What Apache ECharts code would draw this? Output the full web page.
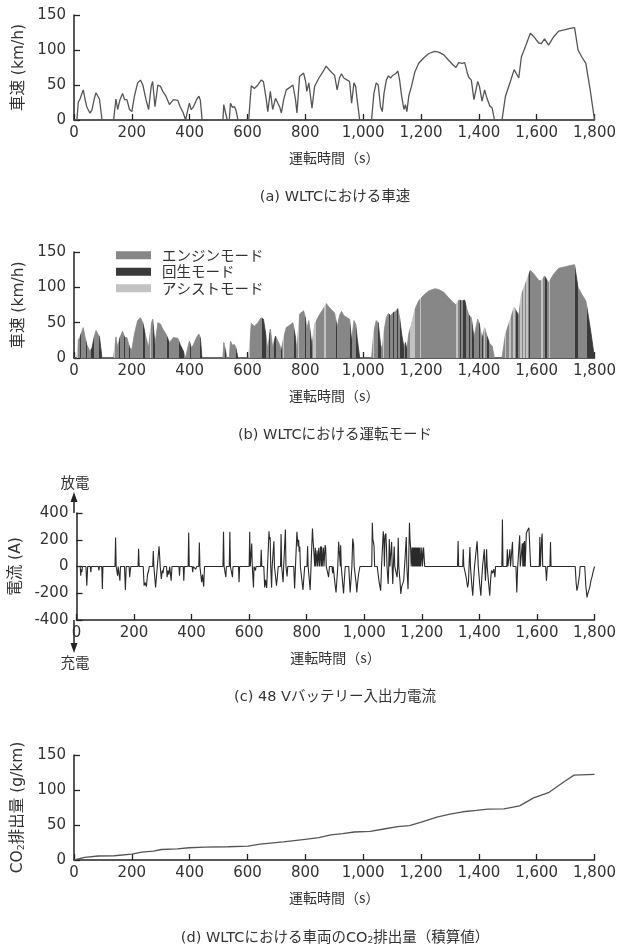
<!DOCTYPE html>
<html>
<head>
<meta charset="utf-8">
<script src="https://cdn.jsdelivr.net/npm/echarts@6/dist/echarts.min.js"></script>
<style>
html, body { margin: 0; padding: 0; background: #fff; }
#chart { width: 619px; height: 945px; }
</style>
</head>
<body>
<div id="chart"></div>
<script>
// 車速 [s, km/h]
var speedPoints = [
	[0,0],[10,0],[15,26],[20,29],[26,36],[32,43],[38,30],[44,19],[50,14],[55,10],[62,14],[70,30],[76,39],[82,37],[88,30],[97,0],
	[137,0],[145,30],[151,15],[159,29],[168,38],[175,29],[183,29],[192,15],[200,12],[209,34],[220,53],[230,57],[238,50],[249,29],[258,15],[267,48],[272,55],[280,19],[290,50],[299,48],[307,41],[318,34],[330,22],[344,29],[359,28],[367,19],[378,10],[386,0],[392,12],[399,24],[405,15],[412,18],[418,16],[425,30],[432,34],[437,28],[443,0],
	[515,0],[518,22],[524,10],[530,0],[537,0],[541,24],[548,18],[555,19],[560,14],[567,0],
	[604,0],[613,49],[624,45],[636,50],[647,57],[655,55],[665,29],[670,12],[679,41],[687,15],[697,31],[705,24],[711,19],[717,10],[725,29],[734,43],[748,47],[757,50],[766,29],[771,10],[780,62],[794,67],[801,55],[805,41],[812,53],[823,17],[832,48],[847,60],[861,69],[872,77],[884,71],[893,67],[901,64],[910,43],[918,60],[925,66],[933,60],[945,57],[953,55],[960,24],[968,53],[974,48],[979,29],[988,0],
	[1029,0],[1037,38],[1045,53],[1052,50],[1060,19],[1066,12],[1072,38],[1080,57],[1087,63],[1095,60],[1103,64],[1112,66],[1120,70],[1126,57],[1133,34],[1141,15],[1146,22],[1151,12],[1158,35],[1167,48],[1179,69],[1192,81],[1210,89],[1227,95],[1248,98],[1261,97],[1279,93],[1294,86],[1310,79],[1321,75],[1330,82],[1342,81],[1351,82],[1359,69],[1365,61],[1374,57],[1383,29],[1396,55],[1402,48],[1411,27],[1420,43],[1428,31],[1438,20],[1446,17],[1454,0],
	[1480,0],[1492,34],[1509,55],[1522,72],[1538,60],[1547,90],[1561,105],[1578,124],[1590,119],[1607,110],[1616,109],[1627,116],[1641,107],[1659,119],[1676,127],[1699,129],[1716,131],[1731,132],[1743,100],[1756,90],[1770,81],[1785,43],[1800,0]
];

// 運転モード区間 [開始s, 終了s]（それ以外はエンジンモード）
var regenSpans = [
	[20,23],[40,45],[60,68],[86,97],[155,158],[172,176],[190,195],[237,247],[274,280],[289,292],[320,330],[362,380],
	[400,404],[436,443],[522,527],[560,567],[651,663],[676,679],[692,697],[715,718],[761,769],[799,803],[815,822],
	[905,910],[955,962],[976,988],[1052,1062],[1089,1092],[1103,1106],[1118,1121],[1128,1140],[1146,1152],
	[1334,1338],[1345,1354],[1365,1368],[1378,1384],[1400,1405],[1412,1416],[1428,1436],
	[1530,1534],[1573,1576],[1628,1636],[1733,1742],[1774,1800]
];
var assistSpans = [
	[12,15],[138,142],[206,209],[263,266],[605,610],[722,726],[776,779],[826,838],[866,870],[1034,1037],[1069,1073],
	[1163,1180],[1197,1200],[1322,1327],[1392,1395],[1417,1420],[1490,1495],[1503,1512],[1518,1526],[1543,1548],
	[1552,1558],[1563,1570],[1616,1621],[1641,1645]
];
var modeNames = ['エンジンモード', '回生モード', 'アシストモード'];

// バッテリー電流 [s, A]
var currentPoints = [
	[0,0],[13,0],[15,-68],[17,-20],[19,-40],[21,0],[33,0],[36,-143],[39,0],[48,0],[50,-43],[52,0],[76,0],[78,-30],[80,0],[88,0],[90,-169],[92,0],
	[134,0],[136,216],[138,0],[141,0],[143,-68],[145,0],[149,0],[151,-106],[153,0],[167,0],[170,-176],[173,0],[183,0],[185,-80],[187,-30],[189,0],
	[214,0],[216,133],[218,0],[232,0],[235,-143],[239,-120],[243,-151],[247,-60],[251,-30],[253,0],[265,0],[267,116],[269,0],[273,0],[275,-156],[278,-150],[281,0],
	[285,0],[287,151],[289,80],[291,0],[293,0],[295,-93],[298,-30],[301,-50],[304,0],[313,0],[315,-80],[318,-30],[321,-60],[324,0],[327,0],[329,-106],[332,0],
	[356,0],[358,-68],[360,0],[371,0],[373,-106],[375,0],[388,0],[390,254],[392,0],[402,0],[404,-43],[406,0],[412,0],[414,-20],[418,0],
	[425,0],[427,179],[429,0],[432,0],[435,-118],[438,-60],[442,-151],[445,0],
	[509,0],[511,259],[513,0],[517,0],[519,-80],[521,0],[531,0],[533,259],[535,0],[540,0],[542,-80],[544,0],[563,0],[565,-118],[567,0],
	[600,0],[602,259],[604,0],[607,0],[609,171],[611,0],[613,0],[615,-156],[617,0],[620,0],[622,-30],[624,0],[640,0],[642,126],[644,0],
	[651,0],[654,-156],[657,-100],[661,-161],[664,0],[667,0],[669,264],[671,200],[673,220],[675,0],[676,0],[678,-156],[680,0],
	[684,0],[686,189],[688,0],[692,0],[695,-143],[698,-80],[701,0],[709,0],[711,242],[713,0],[716,0],[718,-118],[720,0],
	[724,0],[726,277],[728,0],[730,0],[732,-75],[734,0],[755,0],[758,-164],[761,0],
	[764,0],[766,259],[768,250],[770,150],[772,200],[774,110],[776,150],[778,0],[784,0],[787,-176],[790,-170],[793,0],
	[801,0],[803,151],[805,0],[809,0],[812,-176],[815,0],
	[818,0],[820,284],[822,200],[824,140],[826,150],[828,0],[830,140],[832,0],[836,120],[838,0],[842,140],[844,0],[848,150],[850,0],[852,150],[854,0],[858,140],[860,0],[864,160],[866,140],[868,0],
	[873,0],[876,-80],[879,0],[888,0],[890,-50],[892,0],[896,0],[899,-143],[902,-194],[905,-201],[908,0],
	[909,0],[911,184],[914,170],[917,0],[918,158],[920,0],[924,0],[928,-201],[931,-93],[934,0],
	[946,0],[949,-120],[951,-194],[954,-194],[957,0],[958,0],[960,209],[963,160],[965,0],[969,0],[972,-130],[974,-194],[977,-120],[980,-60],[985,0],
	[1026,0],[1028,327],[1030,200],[1032,180],[1034,150],[1036,0],[1045,0],[1048,-55],[1052,-120],[1057,-181],[1060,0],
	[1064,0],[1066,264],[1068,200],[1070,0],[1072,230],[1075,247],[1077,150],[1079,0],[1081,0],[1083,-131],[1085,0],[1087,205],[1089,0],
	[1092,0],[1095,184],[1097,0],[1099,-131],[1101,0],[1104,150],[1106,0],[1111,0],[1114,-80],[1116,0],[1118,214],[1120,0],
	[1122,0],[1124,-106],[1127,-206],[1130,-150],[1133,-143],[1137,-106],[1140,0],[1144,0],[1146,221],[1148,0],[1150,0],[1152,-169],[1154,0],
	[1155,0],[1157,327],[1159,200],[1161,141],[1163,0],[1166,141],[1168,0],[1170,141],[1172,0],[1174,141],[1176,0],[1178,141],[1180,0],
	[1182,141],[1184,0],[1186,141],[1188,0],[1190,141],[1192,0],[1194,141],[1196,0],[1200,141],[1202,0],[1206,141],[1210,0],
	[1324,0],[1326,191],[1328,0],[1342,0],[1344,128],[1346,0],[1350,0],[1354,-80],[1359,-156],[1362,-120],[1364,0],[1365,0],[1367,146],[1369,0],
	[1372,0],[1374,-150],[1377,-219],[1380,-100],[1383,0],[1389,0],[1392,189],[1394,100],[1396,0],[1398,0],[1401,-130],[1405,-219],[1408,-100],[1411,0],
	[1415,0],[1417,128],[1419,0],[1421,-106],[1423,0],[1425,128],[1427,0],
	[1430,0],[1433,-150],[1436,-219],[1439,-100],[1442,-30],[1446,-50],[1450,-20],[1454,-80],[1456,0],
	[1478,0],[1480,352],[1482,0],[1495,0],[1497,128],[1499,0],[1504,0],[1506,128],[1508,0],[1513,0],[1515,184],[1517,0],
	[1527,0],[1530,-194],[1533,0],[1538,0],[1540,234],[1542,0],[1547,0],[1549,171],[1551,0],[1553,180],[1555,0],[1557,190],[1559,0],
	[1561,0],[1563,247],[1567,270],[1572,290],[1576,302],[1578,0],[1608,0],[1610,221],[1612,0],[1614,0],[1616,200],[1618,247],[1620,0],
	[1630,0],[1633,-106],[1636,0],[1645,0],[1647,184],[1649,0],
	[1733,0],[1736,-120],[1739,-181],[1742,-150],[1745,-160],[1748,-60],[1750,0],
	[1766,0],[1770,-150],[1774,-231],[1777,-200],[1780,-180],[1784,-150],[1788,-100],[1791,-80],[1795,-40],[1800,0]
];

// CO2排出量（積算値）[s, g/km]
var co2Points = [
	[0,0],[37,3.8],[84,5.7],[139,6.1],[200,8.5],[234,11.3],[275,12.7],[302,15],[357,16],[398,17.5],[452,18.4],[534,18.9],[602,19.8],
	[643,22.6],[724,25.9],[792,29.2],[847,32],[888,35.8],[929,37.7],[969,40],[1024,41],[1072,44.3],[1119,47.6],[1160,49],
	[1201,54.2],[1255,61.3],[1296,65.1],[1344,68.9],[1392,70.8],[1432,72.6],[1487,73.1],[1541,77.4],[1589,88.7],[1643,96.7],
	[1691,110.8],[1729,121.2],[1800,122.2]
];

var FONT = "'DejaVu Sans', 'Noto Sans CJK JP', sans-serif";
var JFONT = "'Noto Sans CJK JP', sans-serif";
var TXT = '#333';
var modeColors = ['#878787', '#3a3a3a', '#c2c2c2'];

function fmtNum(v) {
	return v >= 1000 ? Math.floor(v / 1000) + ',' + String(v % 1000).padStart(3, '0') : String(v);
}

// モード区間から visualMap のピースを作る
function buildModePieces() {
	var spans = [];
	regenSpans.forEach(function(s) { spans.push([s[0], s[1], 1]); });
	assistSpans.forEach(function(s) { spans.push([s[0], s[1], 2]); });
	spans.sort(function(a, b) { return a[0] - b[0]; });
	var pieces = [], cur = -10;
	spans.forEach(function(s) {
		if (s[0] > cur) pieces.push({ gte: cur, lt: s[0], color: modeColors[0] });
		pieces.push({ gte: s[0], lt: s[1], color: modeColors[s[2]] });
		cur = s[1];
	});
	pieces.push({ gte: cur, lt: 2000, color: modeColors[0] });
	return pieces;
}

function xAxisFor(i) {
	return {
		type : 'value', gridIndex : i, min : 0, max : 1800, interval : 200,
		axisLine : { onZero : false, lineStyle : { color : '#222', width : 1.5 } },
		axisTick : { inside : true, length : 6, lineStyle : { color : '#222', width : 1.3 } },
		axisLabel : { formatter : fmtNum, margin : 6, color : TXT, fontSize : 15, fontFamily : FONT },
		splitLine : { show : false },
		name : '運転時間（s）', nameLocation : 'middle', nameGap : 31,
		nameTextStyle : { color : TXT, fontSize : 14, fontFamily : JFONT }
	};
}

function yAxisFor(i, min, max, interval, name, rich) {
	return {
		type : 'value', gridIndex : i, min : min, max : max, interval : interval,
		axisLine : { show : true, lineStyle : { color : '#222', width : 1.5 } },
		axisTick : { show : true, inside : true, length : 6, lineStyle : { color : '#222', width : 1.3 } },
		axisLabel : { margin : 8, color : TXT, fontSize : 15, fontFamily : FONT },
		splitLine : { show : false },
		name : name, nameLocation : 'middle', nameGap : 47,
		nameTextStyle : { color : TXT, fontSize : 15.5, fontFamily : FONT, rich : rich }
	};
}

function caption(y, text, rich) {
	return {
		type : 'text', x : 335, y : y,
		style : { text : text, align : 'center', verticalAlign : 'middle', fill : TXT, fontSize : 14.5, fontFamily : FONT, rich : rich }
	};
}

var subRich = {
	n : { fontSize : 15.5, fontFamily : FONT, color : TXT },
	s : { fontSize : 9.5, fontFamily : FONT, color : TXT, verticalAlign : 'bottom', padding : [ 7, 0, 0, 0 ] }
};
var capRich = {
	n : { fontSize : 14.5, fontFamily : FONT, fill : TXT },
	s : { fontSize : 9, fontFamily : FONT, fill : TXT, verticalAlign : 'bottom', padding : [ 6, 0, 0, 0 ] }
};

var chart = echarts.init(document.getElementById('chart'));
var option = {
	animation : false,
	backgroundColor : '#fff',
	grid : [
		{ left : 74, top : 15, width : 522, height : 105 },
		{ left : 74, top : 252, width : 522, height : 106 },
		{ left : 74, top : 513, width : 522, height : 107 },
		{ left : 74, top : 755, width : 522, height : 105 }
	],
	xAxis : [ xAxisFor(0), xAxisFor(1), xAxisFor(2), xAxisFor(3) ],
	yAxis : [
		yAxisFor(0, 0, 150, 50, '車速 (km/h)'),
		yAxisFor(1, 0, 150, 50, '車速 (km/h)'),
		yAxisFor(2, -400, 400, 200, '電流 (A)'),
		yAxisFor(3, 0, 150, 50, '{n|CO}{s|2}{n|排出量 (g/km)}', subRich)
	],
	visualMap : {
		type : 'piecewise', show : false, dimension : 0, seriesIndex : 1,
		pieces : buildModePieces()
	},
	legend : {
		data : modeNames, orient : 'vertical', left : 111, top : 243,
		icon : 'rect', itemWidth : 35, itemHeight : 8, itemGap : 2,
		textStyle : { color : TXT, fontSize : 14.5, fontFamily : JFONT, padding : [ 0, 0, 0, 6 ] }
	},
	series : [ {
		type : 'line', xAxisIndex : 0, yAxisIndex : 0, data : speedPoints,
		showSymbol : false, lineStyle : { color : '#555', width : 1.3 }
	}, {
		type : 'line', xAxisIndex : 1, yAxisIndex : 1, data : speedPoints,
		showSymbol : false, lineStyle : { width : 0.8 }, areaStyle : { opacity : 1 }
	}, {
		name : modeNames[0], type : 'bar', xAxisIndex : 1, yAxisIndex : 1, data : [], itemStyle : { color : modeColors[0] }
	}, {
		name : modeNames[1], type : 'bar', xAxisIndex : 1, yAxisIndex : 1, data : [], itemStyle : { color : modeColors[1] }
	}, {
		name : modeNames[2], type : 'bar', xAxisIndex : 1, yAxisIndex : 1, data : [], itemStyle : { color : modeColors[2] }
	}, {
		type : 'line', xAxisIndex : 2, yAxisIndex : 2, data : currentPoints,
		showSymbol : false, lineStyle : { color : '#2a2a2a', width : 1.1 }
	}, {
		type : 'line', xAxisIndex : 3, yAxisIndex : 3, data : co2Points,
		showSymbol : false, lineStyle : { color : '#555', width : 1.3 }
	} ],
	graphic : [
		{ type : 'line', shape : { x1 : 74, y1 : 513, x2 : 74, y2 : 500 }, style : { stroke : '#222', lineWidth : 1.5 } },
		{ type : 'polygon', shape : { points : [ [ 74, 492 ], [ 70.5, 502 ], [ 77.5, 502 ] ] }, style : { fill : '#222' } },
		{ type : 'line', shape : { x1 : 74, y1 : 620, x2 : 74, y2 : 645 }, style : { stroke : '#222', lineWidth : 1.5 } },
		{ type : 'polygon', shape : { points : [ [ 74, 653 ], [ 70.5, 643 ], [ 77.5, 643 ] ] }, style : { fill : '#222' } },
		{ type : 'text', x : 75, y : 482, style : { text : '放電', align : 'center', verticalAlign : 'middle', fill : TXT, fontSize : 14.5, fontFamily : JFONT } },
		{ type : 'text', x : 75, y : 662, style : { text : '充電', align : 'center', verticalAlign : 'middle', fill : TXT, fontSize : 14.5, fontFamily : JFONT } },
		caption(197, '(a) WLTCにおける車速'),
		caption(435, '(b) WLTCにおける運転モード'),
		caption(697, '(c) 48 Vバッテリー入出力電流'),
		caption(938, '{n|(d) WLTCにおける車両のCO}{s|2}{n|排出量（積算値）}', capRich)
	]
};
chart.setOption(option);
</script>
</body>
</html>
